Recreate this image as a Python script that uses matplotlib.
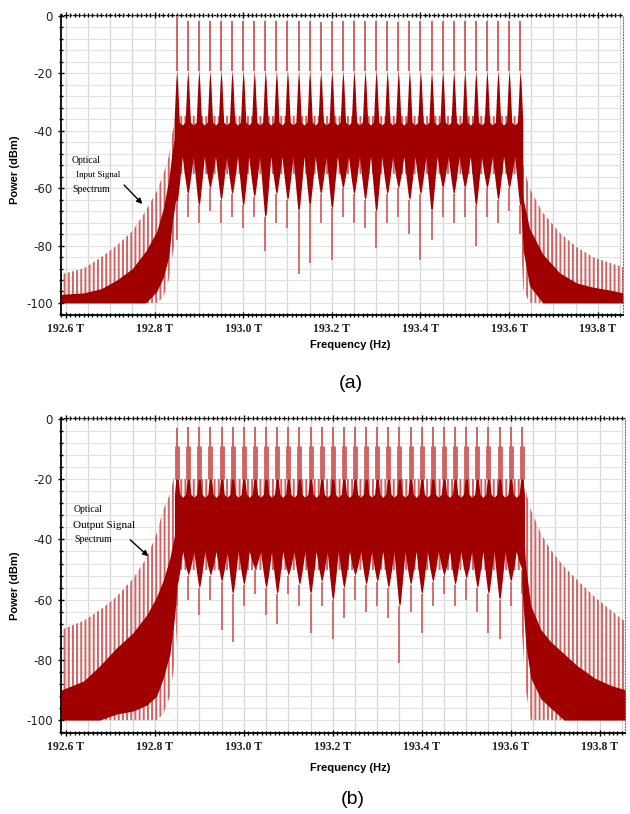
import numpy as np
import matplotlib
matplotlib.use('Agg')
import matplotlib.pyplot as plt
from matplotlib.ticker import MultipleLocator

plt.rcParams['axes.unicode_minus'] = False
plt.rcParams['hatch.linewidth'] = 1.4

DARK = '#a00000'
LIGHT = '#cf6464'

# 32 WDM carriers, 25 GHz grid (THz)
channel_thz = [192.850, 192.875, 192.900, 192.925, 192.950, 192.975, 193.000, 193.025,
               193.050, 193.075, 193.100, 193.125, 193.150, 193.175, 193.200, 193.225,
               193.250, 193.275, 193.300, 193.325, 193.350, 193.375, 193.400, 193.425,
               193.450, 193.475, 193.500, 193.525, 193.550, 193.575, 193.600, 193.625]

# ---- (a) input spectrum ----
peak_a = [0.0, -1.7, -1.8, -1.6, -1.7, -1.9, -1.8, -1.7, -1.6, -1.8, -1.7, -1.9, -1.8, -2.0, -1.7, -1.8,
          -1.6, -1.7, -1.9, -1.8, -2.0, -1.7, -1.6, -1.8, -1.9, -1.7, -1.8, -1.7, -1.8, -1.7, -1.8, -1.7]
tooth_a = [-65, -62, -66, -60, -64, -62, -66, -63, -70, -62, -64, -68, -66, -62, -67, -60,
           -62, -64, -68, -62, -60, -64, -62, -68, -60, -62, -60, -66, -60, -64, -60, -66]
spike_a = [-78, -70, -72, -68, -72, -70, -74, -70, -82, -72, -74, -90, -86, -72, -85, -70,
           -72, -74, -81, -72, -70, -76, -85, -78, -70, -72, -70, -80, -70, -72, -68, -76]

left_f_a = [192.59, 192.64, 192.68, 192.715, 192.75, 192.78, 192.805, 192.82, 192.832, 192.84, 192.85]
left_light_top_a = [-90, -88, -84, -80, -75, -68, -61, -55, -49, -41, -34]
left_dark_top_a = [-97, -96.5, -95, -92, -88, -82, -75, -67, -57, -47, -38]
left_dark_bot_a = [-100, -100, -100, -100, -100, -100, -96, -91, -84, -72, -62]
left_light_bot_a = [-100, -100, -100, -100, -100, -100, -100, -98, -92, -84, -75]

right_f_a = [193.625, 193.632, 193.646, 193.676, 193.714, 193.752, 193.789, 193.827, 193.857]
right_light_top_a = [-38, -52, -60, -68.5, -75.5, -80.5, -84, -86, -87.5]
right_dark_top_a = [-42, -64, -74, -83, -89.5, -93, -94.5, -95.5, -96.5]
right_dark_bot_a = [-62, -82, -94, -100, -100, -100, -100, -100, -100]
right_light_bot_a = [-72, -95, -100, -100, -100, -100, -100, -100, -100]

# ---- (b) output spectrum ----
peak_b = [-3.0, -2.7, -2.5, -2.8, -2.6, -2.7, -2.5, -2.8, -2.6, -2.7, -2.5, -2.6, -2.8, -2.6, -2.7, -2.5,
          -2.7, -2.6, -2.8, -2.5, -2.7, -2.6, -2.8, -2.6, -2.5, -2.7, -2.6, -2.8, -2.6, -2.7, -2.5, -2.6]
tooth_b = [-55, -52, -56, -52, -54, -58, -55, -50, -56, -58, -52, -55, -58, -54, -60, -56,
           -52, -55, -54, -56, -62, -55, -58, -54, -52, -55, -53, -56, -58, -60, -54, -50]
spike_b = [-62, -60, -65, -60, -70, -74, -62, -58, -65, -68, -58, -62, -71, -62, -73, -66,
           -60, -64, -62, -66, -81, -64, -71, -62, -58, -62, -60, -64, -71, -73, -62, -58]

left_f_b = [192.59, 192.64, 192.676, 192.714, 192.751, 192.782, 192.804, 192.819, 192.834, 192.845, 192.85]
left_light_top_b = [-70, -67, -63.5, -59, -53, -46, -38, -30, -25, -18, -15]
left_dark_top_b = [-90, -87, -82, -76, -71, -65, -59, -53.5, -46, -38, -30]
left_dark_bot_b = [-100, -100, -100, -98, -97, -95, -92, -86, -78, -65, -55]
left_light_bot_b = [-100, -100, -100, -100, -100, -100, -100, -98, -92, -80, -70]

right_f_b = [193.625, 193.634, 193.645, 193.668, 193.69, 193.72, 193.75, 193.788, 193.825, 193.859]
right_light_top_b = [-18, -24, -30, -38, -43.5, -49, -53.5, -59, -63.5, -67.5]
right_dark_top_b = [-30, -49, -62, -70, -74, -78, -82, -86, -88.5, -90]
right_dark_bot_b = [-55, -75, -86, -93, -96, -100, -100, -100, -100, -100]
right_light_bot_b = [-70, -90, -100, -100, -100, -100, -100, -100, -100, -100]


def draw_skirt(ax, f, light_top, light_bot, dark_top, dark_bot):
    ax.fill_between(f, light_bot, light_top, facecolor='none', edgecolor=LIGHT,
                    hatch='||||', linewidth=0, zorder=1)
    ax.fill_between(f, dark_bot, dark_top, color=DARK, linewidth=0, zorder=2)


def draw_band(ax, peaks, teeth, spikes, ceiling, shelf, gap, core):
    fc = np.array(channel_thz)
    half = (fc[1] - fc[0]) / 2
    # in-band noise floor
    ax.fill_between([fc[0] - 0.006, fc[-1] + 0.006], [gap - 6] * 2, [ceiling] * 2,
                    facecolor='none', edgecolor=LIGHT, hatch='||||', linewidth=0, zorder=1)
    xs, top, bot = [], [], []
    for i, (f, tooth) in enumerate(zip(fc, teeth)):
        offs = [-half, -0.006, -0.002, 0.0, 0.002, 0.006]
        tops = [shelf, shelf + 1, core - 4, core, core - 4, shelf + 1]
        mid = gap + 0.6 * (tooth - gap)
        bots = [gap, mid, tooth + 1, tooth, tooth + 1, mid]
        if i == 0:
            offs, tops, bots = offs[1:], tops[1:], bots[1:]
        xs += [f + o for o in offs]
        top += tops
        bot += bots
    ax.fill_between(xs, bot, top, color=DARK, linewidth=0, zorder=2)
    # carriers and deep notches
    ax.vlines(fc, core, peaks, color=LIGHT, lw=1.4, zorder=3)
    ax.vlines(fc, teeth, spikes, color=LIGHT, lw=1.3, zorder=1.5)


def style_axes(ax, ylo):
    ticks = [192.6, 192.8, 193.0, 193.2, 193.4, 193.6, 193.8]
    ax.set_xlim(192.589, 193.857)
    ax.set_ylim(ylo, 0.35)
    ax.set_xticks(ticks)
    ax.set_xticklabels(['%.1f T' % v for v in ticks], family='Liberation Serif',
                       fontweight='bold', fontsize=8.5, color='#222222')
    ax.xaxis.set_minor_locator(MultipleLocator(0.01))
    ax.set_yticks([0, -20, -40, -60, -80, -100])
    ax.set_yticklabels(['0', '-20', '-40', '-60', '-80', '-100'], fontsize=8.5, color='#222222')
    ax.yaxis.set_minor_locator(MultipleLocator(4))
    ax.tick_params(which='both', direction='inout', top=True, width=1)
    ax.tick_params(which='major', length=5)
    ax.tick_params(which='minor', length=3)
    for g in np.arange(192.6, 193.86, 0.05):
        ax.axvline(g, color='#d6d6d6', lw=0.9, zorder=0)
    for g in np.arange(0, -104, -4):
        ax.axhline(g, color='#e2e2e2', lw=0.8, zorder=0)
    ax.spines['left'].set_linewidth(1.3)
    ax.spines['bottom'].set_linewidth(1.3)
    ax.spines['top'].set_linestyle(':')
    ax.spines['right'].set_linestyle(':')
    ax.spines['right'].set_color('#777777')


fig = plt.figure(figsize=(6.3, 8.14), dpi=100)
ax_a = fig.add_axes([61 / 630, 1 - 315 / 814, 562 / 630, 300 / 814])
ax_b = fig.add_axes([61 / 630, 1 - 733 / 814, 564 / 630, 315 / 814])

draw_skirt(ax_a, left_f_a, left_light_top_a, left_light_bot_a, left_dark_top_a, left_dark_bot_a)
draw_skirt(ax_a, right_f_a, right_light_top_a, right_light_bot_a, right_dark_top_a, right_dark_bot_a)
draw_band(ax_a, peak_a, tooth_a, spike_a, ceiling=-35, shelf=-38, gap=-49, core=-19)
style_axes(ax_a, -104.2)

draw_skirt(ax_b, left_f_b, left_light_top_b, left_light_bot_b, left_dark_top_b, left_dark_bot_b)
draw_skirt(ax_b, right_f_b, right_light_top_b, right_light_bot_b, right_dark_top_b, right_dark_bot_b)
draw_band(ax_b, peak_b, tooth_b, spike_b, ceiling=-20, shelf=-26, gap=-44, core=-15)
ax_b.vlines(channel_thz, -20, -9, color=LIGHT, lw=3.5, zorder=2.5)
style_axes(ax_b, -104.3)

# axis titles
lab = dict(family='Liberation Sans', fontweight='bold', fontsize=8)
fig.text(15 / 630, 1 - 170 / 814, 'Power (dBm)', rotation=90, ha='center', va='center', **lab)
fig.text(15 / 630, 1 - 586 / 814, 'Power (dBm)', rotation=90, ha='center', va='center', **lab)
fig.text(350 / 630, 1 - 345 / 814, 'Frequency (Hz)', ha='center', va='center', **lab)
fig.text(350 / 630, 1 - 768 / 814, 'Frequency (Hz)', ha='center', va='center', **lab)
fig.text(351 / 630, 1 - 383 / 814, '(a)', ha='center', va='center', fontsize=14, family='Liberation Sans')
fig.text(353 / 630, 1 - 800 / 814, '(b)', ha='center', va='center', fontsize=14, family='Liberation Sans')

# callouts
note = dict(family='Liberation Serif', ha='left', va='center', zorder=5)
ax_a.text(192.614, -50.2, 'Optical', fontsize=7, **note)
ax_a.text(192.622, -55.4, 'Input Signal', fontsize=6.5, **note)
ax_a.text(192.614, -60.6, 'Spectrum', fontsize=7, **note)
ax_a.annotate('', xy=(192.777, -66.2), xytext=(192.727, -58.2),
              arrowprops=dict(arrowstyle='-|>', color='black', lw=1, mutation_scale=8))
ax_b.text(192.617, -30.2, 'Optical', fontsize=7, **note)
ax_b.text(192.617, -35.5, 'Output Signal', fontsize=8, **note)
ax_b.text(192.619, -39.9, 'Spectrum', fontsize=7, **note)
ax_b.annotate('', xy=(192.79, -46.2), xytext=(192.74, -39.5),
              arrowprops=dict(arrowstyle='-|>', color='black', lw=1, mutation_scale=8))

fig.savefig('out.png', dpi=100)
